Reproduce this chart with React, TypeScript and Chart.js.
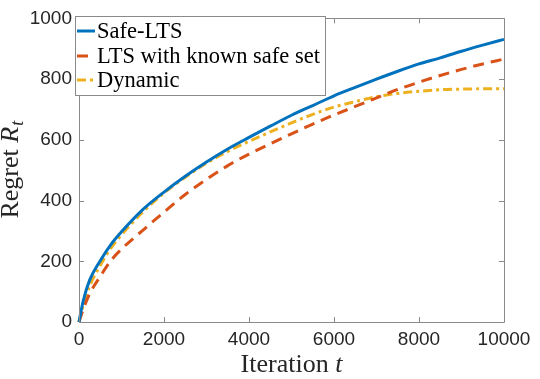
import React, { useEffect, useRef } from 'react';
import { Chart, registerables } from 'chart.js';
Chart.register(...registerables);

const iterations = [0, 100, 250, 500, 750, 1000, 1500, 2000, 2500, 3000, 3500, 4000, 4500, 5000, 5500, 6000, 6500, 7000, 7500, 8000, 8500, 9000, 9500, 10000];
const safeLts = [0, 70, 138, 202, 255, 297, 370, 428, 480, 527, 570, 608, 645, 681, 713, 745, 773, 800, 826, 850, 870, 892, 912, 931];
const ltsKnown = [0, 42, 93, 150, 202, 240, 302, 362, 420, 470, 515, 553, 587, 620, 652, 682, 710, 738, 766, 790, 812, 832, 850, 866];
const dynamic = [0, 55, 118, 186, 243, 287, 362, 425, 477, 523, 562, 595, 626, 656, 684, 708, 726, 742, 753, 760, 765, 767, 768, 768];

const seriesNames = ['Safe-LTS', 'LTS with known safe set', 'Dynamic'];
const seriesColors = ['#0072BD', '#D95319', '#EDB120'];
const seriesDashes: number[][] = [[], [11, 7], [9, 4, 3, 4]];
const xTicks = [0, 2000, 4000, 6000, 8000, 10000];
const yTicks = [0, 200, 400, 600, 800, 1000];

const axisColor = '#262626';
const SERIF = '"Liberation Serif", serif';
const SANS = '"Liberation Sans", Arial, sans-serif';

const decorPlugin = {
  id: 'decor',
  afterDatasetsDraw(chart: any) {
    const ctx = chart.ctx;
    const { left, right, top, bottom } = chart.chartArea;
    const xs = chart.scales.x;
    const ys = chart.scales.y;
    ctx.save();
    // frame
    ctx.strokeStyle = '#8a8a8a';
    ctx.lineWidth = 1;
    ctx.setLineDash([]);
    ctx.beginPath();
    ctx.rect(Math.round(left) + 0.5, Math.round(top) + 0.5, Math.round(right - left), Math.round(bottom - top));
    ctx.stroke();
    // inward ticks
    const tl = 5;
    ctx.beginPath();
    xTicks.forEach((v) => {
      const px = Math.round(xs.getPixelForValue(v)) + 0.5;
      ctx.moveTo(px, bottom);
      ctx.lineTo(px, bottom - tl);
      ctx.moveTo(px, top);
      ctx.lineTo(px, top + tl);
    });
    yTicks.forEach((v) => {
      const py = Math.round(ys.getPixelForValue(v)) + 0.5;
      ctx.moveTo(left, py);
      ctx.lineTo(left + tl, py);
      ctx.moveTo(right, py);
      ctx.lineTo(right - tl, py);
    });
    ctx.stroke();

    // legend
    const lx = 75, ly = 16, lw = 250, lh = 79;
    ctx.fillStyle = '#ffffff';
    ctx.fillRect(lx, ly, lw, lh);
    ctx.strokeStyle = '#8a8a8a';
    ctx.strokeRect(lx + 0.5, ly + 0.5, lw, lh);
    const rows = [31, 56, 80];
    seriesNames.forEach((name, i) => {
      ctx.strokeStyle = seriesColors[i];
      ctx.lineWidth = 3;
      ctx.setLineDash(seriesDashes[i]);
      ctx.beginPath();
      ctx.moveTo(77, rows[i]);
      ctx.lineTo(95, rows[i]);
      ctx.stroke();
      ctx.setLineDash([]);
      ctx.font = '22.5px ' + SERIF;
      ctx.textBaseline = 'middle';
      ctx.textAlign = 'left';
      ctx.fillStyle = '#000000';
      ctx.fillText(name, 97, rows[i] + 1);
    });

    // x title
    ctx.fillStyle = axisColor;
    ctx.textBaseline = 'alphabetic';
    ctx.textAlign = 'left';
    const cx = (left + right) / 2;
    ctx.font = '26px ' + SERIF;
    const w1 = ctx.measureText('Iteration ').width;
    ctx.font = 'italic 26px ' + SERIF;
    const w2 = ctx.measureText('t').width;
    const sx = cx - (w1 + w2) / 2;
    ctx.font = '26px ' + SERIF;
    ctx.fillText('Iteration ', sx, 372);
    ctx.font = 'italic 26px ' + SERIF;
    ctx.fillText('t', sx + w1, 372);

    // y title
    ctx.save();
    ctx.translate(18, (top + bottom) / 2);
    ctx.rotate(-Math.PI / 2);
    ctx.font = '26px ' + SERIF;
    const a = ctx.measureText('Regret ').width;
    ctx.font = 'italic 26px ' + SERIF;
    const b = ctx.measureText('R').width;
    ctx.font = 'italic 18px ' + SERIF;
    const c = ctx.measureText('t').width;
    const s = -(a + b + c) / 2;
    ctx.font = '26px ' + SERIF;
    ctx.fillText('Regret ', s, 0);
    ctx.font = 'italic 26px ' + SERIF;
    ctx.fillText('R', s + a, 0);
    ctx.font = 'italic 18px ' + SERIF;
    ctx.fillText('t', s + a + b + 1, 5);
    ctx.restore();

    ctx.restore();
  },
};

export default function App() {
  const ref = useRef<HTMLCanvasElement | null>(null);
  useEffect(() => {
    document.body.style.margin = '0';
    const canvas = ref.current;
    if (!canvas) return;
    const data = [safeLts, ltsKnown, dynamic];
    const chart = new Chart(canvas, {
      type: 'line',
      data: {
        datasets: data.map((vals, i) => ({
          label: seriesNames[i],
          data: iterations.map((t, k) => ({ x: t, y: vals[k] })),
          borderColor: seriesColors[i],
          borderWidth: 3,
          borderDash: seriesDashes[i],
          pointRadius: 0,
          fill: false,
          cubicInterpolationMode: 'monotone' as const,
          clip: 3,
        })),
      },
      options: {
        animation: false,
        responsive: false,
        maintainAspectRatio: false,
        layout: { padding: { top: 16, right: 36, left: 0, bottom: 0 } },
        plugins: { legend: { display: false }, tooltip: { enabled: false } },
        scales: {
          x: {
            type: 'linear',
            min: 0,
            max: 10000,
            afterBuildTicks: (s: any) => { s.ticks = xTicks.map((v) => ({ value: v })); },
            ticks: { font: { family: SANS, size: 19 }, color: axisColor, maxRotation: 0, padding: 6, autoSkip: false, callback: (v: any) => String(v) },
            grid: { display: false, drawTicks: false },
            border: { display: false },
            afterFit: (s: any) => { s.height = 57; },
          },
          y: {
            type: 'linear',
            min: 0,
            max: 1000,
            afterBuildTicks: (s: any) => { s.ticks = yTicks.map((v) => ({ value: v })); },
            ticks: { font: { family: SANS, size: 19 }, color: axisColor, padding: 7, autoSkip: false, callback: (v: any) => String(v) },
            grid: { display: false, drawTicks: false },
            border: { display: false },
            afterFit: (s: any) => { s.width = 79; },
          },
        },
      },
      plugins: [decorPlugin],
    });
    let alive = true;
    if ((document as any).fonts) {
      Promise.all([
        (document as any).fonts.load('22px "Liberation Serif"'),
        (document as any).fonts.load('italic 26px "Liberation Serif"'),
        (document as any).fonts.load('19px "Liberation Sans"'),
      ]).then(() => { if (alive) chart.update('none'); }).catch(() => {});
    }
    return () => { alive = false; chart.destroy(); };
  }, []);
  return (
    <div style={{ position: 'absolute', left: 0, top: 0, width: 540, height: 379, background: '#fff' }}>
      <canvas ref={ref} width={540} height={379} style={{ width: 540, height: 379, display: 'block' }} />
    </div>
  );
}
